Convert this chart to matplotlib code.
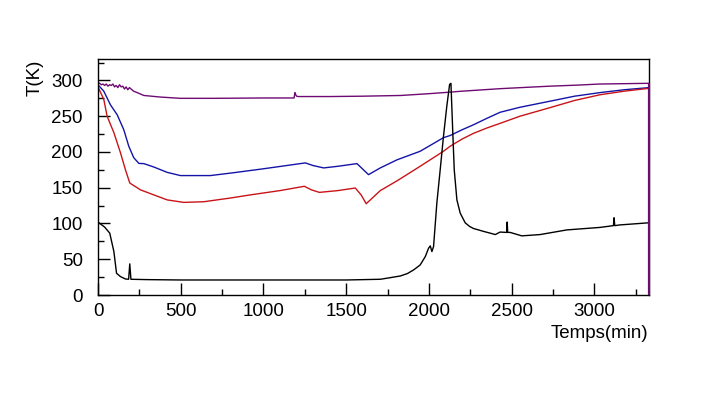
import matplotlib
matplotlib.use('Agg')
import matplotlib.pyplot as plt
from matplotlib.ticker import MultipleLocator

purple_t = [0, 10, 20, 30, 40, 50, 60, 70, 80, 90, 100, 110, 120, 130, 140,
            150, 160, 170, 180, 190, 200, 215, 237, 277, 377, 498, 700, 1000,
            1185, 1190, 1195, 1200, 1210, 1400, 1600, 1830, 2000, 2130, 2200,
            2430, 2600, 2730, 2900, 3030, 3180, 3330]
purple_T = [297, 296, 294, 295, 293, 295, 292, 294, 293, 295, 291, 293, 290,
            294, 291, 292, 288, 291, 287, 290, 288, 285, 283, 279, 276.8, 275,
            275, 275.5, 275.5, 283, 280, 278, 277.5, 277.5, 278, 279, 281.5,
            283.7, 285, 288.5, 290.5, 292, 293.5, 295, 295.5, 296]

blue_t = [0, 35, 75, 116, 156, 186, 216, 247, 277, 337, 418, 498, 679, 820,
          1000, 1253, 1300, 1364, 1450, 1565, 1600, 1635, 1706, 1807, 1947,
          2088, 2128, 2200, 2269, 2350, 2430, 2550, 2732, 2880, 3034, 3180,
          3330]
blue_T = [294, 285, 266, 252, 231, 208, 192, 184, 183.7, 179, 171.5, 167, 167,
          171, 176.5, 184.7, 181, 177.7, 180, 183.7, 176, 168.3, 177.7, 189,
          201, 220, 223, 231, 238, 247, 255.5, 262.5, 271, 278, 283, 287, 290]

red_t = [0, 35, 55, 96, 136, 166, 192, 257, 337, 418, 518, 639, 800, 921,
         1100, 1247, 1290, 1338, 1450, 1555, 1590, 1621, 1706, 1807, 1947,
         2088, 2128, 2200, 2269, 2350, 2430, 2550, 2732, 2880, 3034, 3180,
         3330]
red_T = [291, 273.5, 250, 227, 198.7, 175, 156.6, 147, 140, 133, 129.5, 130.4,
         135.6, 140, 146, 152, 147, 143.5, 146, 149.6, 140, 127.6, 146, 159.6,
         180, 201, 208, 218, 226, 233.5, 240, 250, 262, 272, 280, 285, 289]

black_t = [0, 40, 71, 96, 112, 136, 166, 185, 192, 199, 300, 500, 800, 1000,
           1250, 1500, 1706, 1760, 1827, 1870, 1907, 1947, 1978, 1998, 2008,
           2018, 2028, 2048, 2068, 2088, 2108, 2125, 2133, 2145, 2153, 2169,
           2189, 2219, 2245, 2269, 2300, 2329, 2370, 2401, 2430, 2470, 2473,
           2476, 2491, 2561, 2672, 2833, 3034, 3115, 3119, 3123, 3155, 3330]
black_T = [102, 95, 86.5, 60.7, 30.4, 25.7, 22.4, 22, 43.5, 22, 21.5, 21, 21,
           21, 21, 21, 22, 24, 26.6, 30, 35, 42, 53.7, 65.5, 68.7, 60.7, 67.8,
           129, 175, 222, 264, 294.5, 296, 222, 175, 133, 114.5, 101, 96, 93,
           91, 89, 86.5, 84.5, 88, 87.5, 102, 87.5, 87.5, 82.7, 84.5, 91, 94.5,
           97, 108, 97, 98, 101]

PURPLE = '#6e0a72'
BLUE = '#1414a8'
RED = '#c81418'

plt.rcParams['font.family'] = ['Liberation Sans', 'DejaVu Sans']
plt.rcParams['font.size'] = 13.5

fig = plt.figure(figsize=(7.09, 3.94), dpi=100)
ax = fig.add_axes([98 / 709., 1 - 295 / 394., 551 / 709., 236 / 394.])

ax.plot(purple_t, purple_T, color=PURPLE, lw=1.0)
ax.plot(blue_t, blue_T, color=BLUE, lw=1.0)
ax.plot(red_t, red_T, color=RED, lw=1.0)
ax.plot(black_t, black_T, color='black', lw=1.0)
# the purple histogram closes down to zero at the last bin
ax.vlines(purple_t[-1], 0, purple_T[-1], color=PURPLE, lw=1.6,
          clip_on=False, zorder=5)

ax.set_xlim(0, 3330)
ax.set_ylim(0, 330)

ax.xaxis.set_major_locator(MultipleLocator(500))
ax.xaxis.set_minor_locator(MultipleLocator(250))
ax.yaxis.set_major_locator(MultipleLocator(50))
ax.yaxis.set_minor_locator(MultipleLocator(25))
ax.tick_params(which='both', direction='in', width=1.0, top=False,
               right=False)
ax.tick_params(which='major', length=8.6)
ax.tick_params(which='minor', length=4.5)
ax.tick_params(axis='x', pad=6)
ax.tick_params(axis='y', pad=11)

for sp in ax.spines.values():
    sp.set_linewidth(1.0)

fig.text(35 / 709., 1 - 60 / 394., 'T(K)', rotation=90, ha='center',
         va='top')
fig.text(648 / 709., 1 - 333 / 394., 'Temps(min)', ha='right',
         va='center')

plt.savefig('out.png', dpi=100)
